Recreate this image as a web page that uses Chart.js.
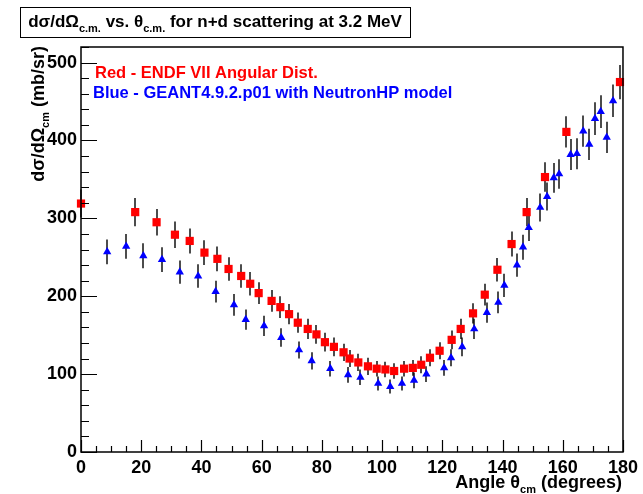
<!DOCTYPE html>
<html>
<head>
<meta charset="utf-8">
<script src="https://cdn.jsdelivr.net/npm/chart.js@4.4.0/dist/chart.umd.min.js"></script>
<style>
  html, body { margin: 0; padding: 0; background: #fff; }
  #wrap { width: 643px; height: 494px; }
</style>
</head>
<body>
<div id="wrap"><canvas id="xsec" width="643" height="494"></canvas></div>
<script>
// ENDF/B-VII angular distribution (red squares)
const endfAngles = [0, 18, 25.1, 31.2, 36.1, 41.0, 45.3, 49.0, 53.2, 56.2,
  59.0, 63.3, 66.2, 69.1, 72.0, 75.3, 78.2, 81.0, 84.0, 87.2,
  89.2, 92.1, 95.3, 98.2, 101.1, 104.0, 107.3, 110.2, 113.0, 115.9,
  119.1, 123.1, 126.1, 130.2, 134.1, 138.3, 143.0, 148.0, 154.1, 161.2, 179.0];
const endfValues = [319, 308, 295, 279, 271, 256, 248, 235, 226, 216,
  204, 194, 186, 177, 166, 158, 151, 141, 135, 128,
  120, 115, 110, 107, 106, 104, 107, 108, 112, 121,
  130, 144, 158, 178, 202, 234, 267, 308, 353, 411, 475];
const endfErrors = [18, 18, 17, 17, 16, 16, 16, 15, 15, 15,
  14, 14, 14, 13, 13, 13, 12, 12, 12, 11,
  11, 11, 11, 10, 10, 10, 10, 10, 11, 11,
  11, 12, 13, 13, 14, 15, 16, 18, 19, 20, 22];

// GEANT4.9.2.p01 + NeutronHP (blue triangles)
const g4Angles = [8.7, 15.0, 20.7, 26.9, 32.8, 38.9, 44.7, 50.8, 54.7, 60.8,
  66.5, 72.4, 76.6, 82.8, 88.7, 92.8, 98.7, 102.7, 106.6, 110.6,
  114.7, 120.6, 122.9, 126.6, 130.6, 134.8, 138.6, 140.6, 144.8, 146.8,
  148.7, 152.5, 154.8, 157.0, 158.8, 162.6, 164.7, 166.8, 168.8, 170.7,
  172.6, 174.6, 176.7];
const g4Values = [257, 264, 252, 247, 231, 226, 206, 189, 170, 162,
  147, 131, 117, 107, 99, 96, 88, 84, 88, 92,
  100, 108, 121, 135, 158, 179, 192, 214, 240, 263,
  288, 314, 328, 352, 357, 382, 383, 412, 395, 428,
  437, 404, 451];
const g4Errors = [16, 16, 16, 16, 15, 15, 14, 14, 13, 13,
  12, 11, 11, 10, 10, 10, 9, 9, 9, 10,
  10, 10, 11, 12, 13, 13, 14, 15, 15, 16,
  17, 18, 18, 19, 19, 20, 20, 20, 20, 21,
  21, 20, 21];

const xTicks = [0, 20, 40, 60, 80, 100, 120, 140, 160, 180];
const yTicks = [0, 100, 200, 300, 400, 500];

const FONT = '"Liberation Sans", Arial, Helvetica, sans-serif';

function toPoints(xs, ys, errs) {
  return xs.map((x, i) => ({ x: x, y: ys[i], err: errs[i] }));
}

// text with subscripts: parts = [[text, isSub], ...]
function richText(ctx, parts, x, y, size, align) {
  const subSize = Math.round(size * 0.62);
  const widths = parts.map(([t, sub]) => {
    ctx.font = 'bold ' + (sub ? subSize : size) + 'px ' + FONT;
    return ctx.measureText(t).width;
  });
  const total = widths.reduce((a, b) => a + b, 0);
  let cx = align === 'right' ? x - total : (align === 'center' ? x - total / 2 : x);
  ctx.textAlign = 'left';
  ctx.textBaseline = 'alphabetic';
  parts.forEach(([t, sub], i) => {
    ctx.font = 'bold ' + (sub ? subSize : size) + 'px ' + FONT;
    ctx.fillText(t, cx, sub ? y + size * 0.28 : y);
    cx += widths[i];
  });
  return total;
}

const errorBars = {
  id: 'errorBars',
  beforeDatasetsDraw(chart) {
    const ctx = chart.ctx;
    const ys = chart.scales.y;
    ctx.save();
    ctx.strokeStyle = 'rgba(0,0,0,0.7)';
    ctx.lineWidth = 2;
    chart.data.datasets.forEach((ds, di) => {
      const meta = chart.getDatasetMeta(di);
      meta.data.forEach((pt, i) => {
        const d = ds.data[i];
        ctx.beginPath();
        ctx.moveTo(Math.round(pt.x), ys.getPixelForValue(d.y + d.err));
        ctx.lineTo(Math.round(pt.x), ys.getPixelForValue(d.y - d.err));
        ctx.stroke();
      });
    });
    ctx.restore();
  }
};

const frameAndText = {
  id: 'frameAndText',
  afterDraw(chart) {
    const ctx = chart.ctx;
    const a = chart.chartArea;
    const xs = chart.scales.x, ys = chart.scales.y;
    ctx.save();
    ctx.strokeStyle = '#000';
    ctx.lineWidth = 1.5;
    ctx.strokeRect(a.left, a.top, a.right - a.left, a.bottom - a.top);

    // inward ticks
    ctx.lineWidth = 1.2;
    ctx.beginPath();
    for (let v = 0; v <= 520; v += 20) {
      const py = Math.round(ys.getPixelForValue(v)) + 0.5;
      const len = v % 100 === 0 ? 16 : 8;
      ctx.moveTo(a.left, py);
      ctx.lineTo(a.left + len, py);
    }
    for (let v = 0; v <= 180; v += 5) {
      const px = Math.round(xs.getPixelForValue(v)) + 0.5;
      const len = v % 20 === 0 ? 12 : 6;
      ctx.moveTo(px, a.bottom);
      ctx.lineTo(px, a.bottom - len);
    }
    ctx.stroke();

    // title box
    ctx.fillStyle = '#fff';
    ctx.fillRect(20, 7, 390, 30);
    ctx.lineWidth = 1;
    ctx.strokeRect(20.5, 7.5, 390, 30);
    ctx.fillStyle = '#000';
    richText(ctx, [['d\u03c3/d\u03a9', false], ['c.m.', true], [' vs. \u03b8', false], ['c.m.', true],
      [' for n+d scattering at 3.2 MeV', false]], 215, 27, 17, 'center');

    // legend
    ctx.fillStyle = '#ff0000';
    richText(ctx, [['Red - ENDF VII Angular Dist.', false]], 95, 78, 16.5, 'left');
    ctx.fillStyle = '#0000ff';
    richText(ctx, [['Blue - GEANT4.9.2.p01 with NeutronHP model', false]], 93, 98, 16.5, 'left');

    // axis titles
    ctx.fillStyle = '#000';
    richText(ctx, [['Angle \u03b8', false], ['cm', true], [' (degrees)', false]], 622, 488, 18, 'right');
    ctx.translate(44, 46);
    ctx.rotate(-Math.PI / 2);
    richText(ctx, [['d\u03c3/d\u03a9', false], ['cm', true], [' (mb/sr)', false]], 0, 0, 18, 'right');
    ctx.restore();
  }
};

new Chart(document.getElementById('xsec'), {
  type: 'scatter',
  data: {
    datasets: [
      {
        label: 'Red - ENDF VII Angular Dist.',
        data: toPoints(endfAngles, endfValues, endfErrors),
        pointStyle: 'rect',
        pointRadius: 5.8,
        pointBackgroundColor: '#ff0000',
        pointBorderWidth: 0,
        clip: false
      },
      {
        label: 'Blue - GEANT4.9.2.p01 with NeutronHP model',
        data: toPoints(g4Angles, g4Values, g4Errors),
        pointStyle: 'triangle',
        pointRadius: 4.8,
        pointBackgroundColor: '#0000ff',
        pointBorderWidth: 0,
        clip: false
      }
    ]
  },
  options: {
    responsive: false,
    animation: false,
    layout: { padding: { top: 47, right: 19, left: 0, bottom: 0 } },
    plugins: {
      legend: { display: false },
      tooltip: { enabled: false },
      title: { display: false }
    },
    scales: {
      x: {
        type: 'linear',
        min: 0, max: 180,
        afterBuildTicks: s => { s.ticks = xTicks.map(v => ({ value: v })); },
        afterFit: s => { s.height = 42; },
        grid: { display: false, drawTicks: false },
        border: { display: false },
        ticks: { color: '#000', padding: 5, maxRotation: 0, font: { family: FONT, weight: 'bold', size: 18 } }
      },
      y: {
        min: 0, max: 520,
        afterBuildTicks: s => { s.ticks = yTicks.map(v => ({ value: v })); },
        afterFit: s => { s.width = 81; },
        grid: { display: false, drawTicks: false },
        border: { display: false },
        ticks: { color: '#000', padding: 4, font: { family: FONT, weight: 'bold', size: 18 } }
      }
    }
  },
  plugins: [errorBars, frameAndText]
});
</script>
</body>
</html>
